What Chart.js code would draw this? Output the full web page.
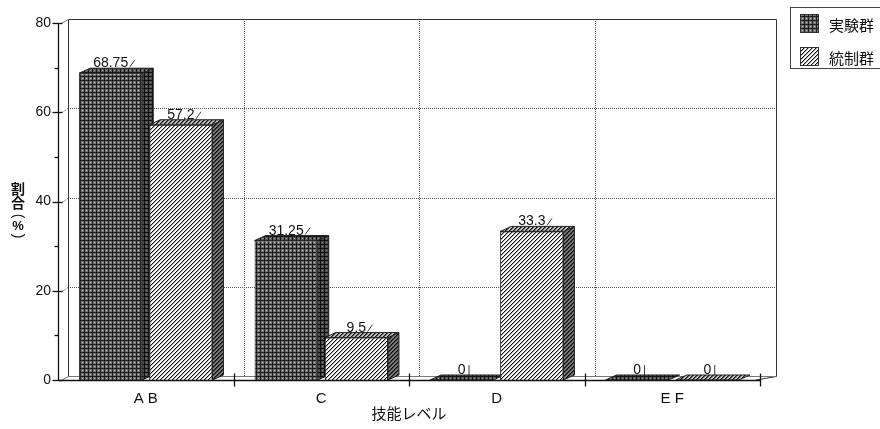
<!DOCTYPE html>
<html>
<head>
<meta charset="utf-8">
<script src="https://cdn.jsdelivr.net/npm/chart.js@4.4.1/dist/chart.umd.min.js"></script>
<style>
  html, body { margin: 0; padding: 0; background: #fff; }
  #wrap { position: relative; width: 880px; height: 429px; }
</style>
</head>
<body>
<div id="wrap"><canvas id="c" width="880" height="429"></canvas></div>
<script>
// 技能レベル別の割合（%）
const categories = ['A B', 'C', 'D', 'E F'];
const seriesNames = ['実験群', '統制群'];
const experimental = [68.75, 31.25, 0, 0];
const control = [57.2, 9.5, 33.3, 0];
const yTicks = [0, 20, 40, 60, 80];

const DX = 11, DY = 5;          // depth of the 3D bars
const WX = 10, WY = 4;          // offset of the back wall
const NUM_FONT = '"Liberation Sans", Arial, sans-serif';
const JP_FONT = '"Noto Sans CJK JP", "Noto Sans", sans-serif';

function tile(size, draw) {
  const cv = document.createElement('canvas');
  cv.width = size; cv.height = size;
  const g = cv.getContext('2d');
  draw(g);
  return document.getElementById('c').getContext('2d').createPattern(cv, 'repeat');
}
function gridTile(bg, line, dot) {
  return tile(4, g => {
    g.fillStyle = bg; g.fillRect(0, 0, 4, 4);
    g.fillStyle = line; g.fillRect(0, 0, 4, 1); g.fillRect(0, 0, 1, 4);
    g.fillStyle = dot; g.fillRect(2, 2, 1, 1);
  });
}
function hatchTile(bg, line, soft) {
  return tile(4, g => {
    g.fillStyle = bg; g.fillRect(0, 0, 4, 4);
    for (let i = 0; i < 4; i++) {
      g.fillStyle = line; g.fillRect(i, 3 - i, 1, 1);
      g.fillStyle = soft; g.fillRect(i, (4 - i) % 4, 1, 1);
    }
  });
}
const pat = {
  expFront: gridTile('#727272', '#1c1c1c', '#c4c4c4'),
  expSide: gridTile('#4a4a4a', '#101010', '#8a8a8a'),
  expTop: gridTile('#5a5a5a', '#151515', '#9a9a9a'),
  ctlFront: hatchTile('#ffffff', '#111111', '#aaaaaa'),
  ctlSide: hatchTile('#7a7a7a', '#111111', '#333333'),
  ctlTop: hatchTile('#bdbdbd', '#111111', '#555555')
};

const faces = [
  { side: pat.expSide, top: pat.expTop },
  { side: pat.ctlSide, top: pat.ctlTop }
];

function poly(ctx, pts, fill) {
  ctx.beginPath();
  ctx.moveTo(pts[0][0], pts[0][1]);
  for (let i = 1; i < pts.length; i++) ctx.lineTo(pts[i][0], pts[i][1]);
  ctx.closePath();
  ctx.fillStyle = fill; ctx.fill();
  ctx.strokeStyle = '#222'; ctx.lineWidth = 1; ctx.stroke();
}

// back wall, floor, axes with 3D ticks, bar depth faces and value labels
const framePlugin = {
  id: 'frame',
  beforeDatasetsDraw(chart) {
    const { ctx } = chart;
    const xs = chart.scales.x, ys = chart.scales.y;
    const L = xs.left, R = xs.right;
    const top = ys.getPixelForValue(80), bot = ys.getPixelForValue(0);
    ctx.save();
    ctx.strokeStyle = '#555'; ctx.lineWidth = 1; ctx.setLineDash([1, 1]);
    [20, 40, 60].forEach(v => {
      const y = Math.round(ys.getPixelForValue(v) - WY) + 0.5;
      ctx.beginPath(); ctx.moveTo(L + WX, y); ctx.lineTo(R + WX + 6, y); ctx.stroke();
      ctx.beginPath(); ctx.moveTo(L + 4, y + WY); ctx.lineTo(L + WX, y); ctx.stroke();
    });
    const n = categories.length, step = (R - L) / n;
    for (let i = 1; i < n; i++) {
      const x = Math.round(L + step * i + WX) + 0.5;
      ctx.beginPath(); ctx.moveTo(x, top - WY); ctx.lineTo(x, bot - WY); ctx.stroke();
    }
    ctx.setLineDash([]);
    ctx.strokeStyle = '#333';
    const wl = Math.round(L + WX) + 0.5, wr = Math.round(R + WX + 6) + 0.5;
    const wt = Math.round(top - WY) + 0.5, wb = Math.round(bot - WY) + 0.5;
    ctx.beginPath();
    ctx.moveTo(wl, wb); ctx.lineTo(wl, wt); ctx.lineTo(wr, wt); ctx.lineTo(wr, wb);
    ctx.lineTo(R - 4, bot); ctx.stroke();
    ctx.strokeStyle = '#777';
    ctx.beginPath(); ctx.moveTo(wl, wb); ctx.lineTo(wr, wb); ctx.stroke();
    ctx.beginPath(); ctx.moveTo(L + 4, bot); ctx.lineTo(wl, wb); ctx.stroke();
    ctx.beginPath(); ctx.moveTo(L + 4, top); ctx.lineTo(wl, wt); ctx.stroke();
    ctx.restore();
  },
  afterDatasetsDraw(chart) {
    const { ctx } = chart;
    ctx.save();
    const n = categories.length;
    for (let j = 0; j < n; j++) {
      for (let i = 0; i < 2; i++) {
        const bar = chart.getDatasetMeta(i).data[j];
        if (i === 1) bar.draw(ctx);   // keep the front of the second bar above the first bar's side
        const p = bar.getProps(['x', 'y', 'base', 'width'], true);
        const l = p.x - p.width / 2, r = p.x + p.width / 2;
        const t = p.y, b = p.base;
        if (b - t > 0.5) {
          poly(ctx, [[r, b], [r, t], [r + DX, t - DY], [r + DX, b - DY]], faces[i].side);
        }
        poly(ctx, [[l, t], [r, t], [r + DX, t - DY], [l + DX, t - DY]], faces[i].top);
      }
    }
    for (let i = 0; i < 2; i++) {
      chart.getDatasetMeta(i).data.forEach((bar, j) => {
        const p = bar.getProps(['x', 'y'], true);
        const v = chart.data.datasets[i].data[j];
        const txt = String(v);
        ctx.font = '14px ' + NUM_FONT;
        ctx.fillStyle = '#111'; ctx.textAlign = 'center'; ctx.textBaseline = 'alphabetic';
        const base = p.y - DY - 1;
        ctx.fillText(txt, p.x, base);
        const w = ctx.measureText(txt).width;
        const tx = p.x + w / 2 + 1.5;
        ctx.strokeStyle = '#222'; ctx.lineWidth = 0.9;
        ctx.beginPath();
        if (v === 0) { ctx.moveTo(tx + 2, base + 1); ctx.lineTo(tx + 2, base - 9); }
        else { ctx.moveTo(tx, base); ctx.lineTo(tx + 5, base - 7); }
        ctx.stroke();
      });
    }
    ctx.restore();
  },
  afterDraw(chart) {
    const { ctx } = chart;
    const xs = chart.scales.x, ys = chart.scales.y;
    const L = xs.left, R = xs.right;
    const top = ys.getPixelForValue(80), bot = ys.getPixelForValue(0);
    ctx.save();
    ctx.strokeStyle = '#111'; ctx.lineWidth = 1.3;
    const ax = Math.round(L) + 0.5;
    ctx.beginPath(); ctx.moveTo(ax, top); ctx.lineTo(ax, bot + 1); ctx.stroke();
    for (let v = 0; v <= 80; v += 10) {
      const y = Math.round(ys.getPixelForValue(v)) + 0.5;
      const major = v % 20 === 0;
      ctx.beginPath();
      ctx.moveTo(ax - (major ? 6 : 4), y); ctx.lineTo(ax + (major ? 4 : 0), y); ctx.stroke();
    }
    const by = Math.round(bot) + 0.5;
    ctx.beginPath(); ctx.moveTo(ax, by); ctx.lineTo(R, by); ctx.stroke();
    const n = categories.length, step = (R - L) / n;
    for (let i = 1; i <= n; i++) {
      const x = Math.round(L + step * i) + 0.5;
      ctx.beginPath(); ctx.moveTo(x, by - 7); ctx.lineTo(x, by + 6); ctx.stroke();
    }
    // axis titles
    ctx.fillStyle = '#111';
    ctx.textAlign = 'center'; ctx.textBaseline = 'middle';
    ctx.font = '15px ' + JP_FONT;
    ctx.fillText('技能レベル', (L + R) / 2, 413);
    // vertical y-axis title 割合（%）, brackets turned for vertical writing
    ctx.font = 'bold 14px ' + JP_FONT;
    ctx.fillText('割', 18, 189);
    ctx.fillText('合', 18, 203);
    ctx.font = 'bold 13px ' + NUM_FONT;
    ctx.fillText('%', 18, 226);
    ctx.font = '14px ' + NUM_FONT;
    [['(', 216], [')', 236]].forEach(([ch, y]) => {
      ctx.save(); ctx.translate(18, y); ctx.rotate(Math.PI / 2);
      ctx.fillText(ch, 0, 0); ctx.restore();
    });
    // legend
    ctx.strokeStyle = '#444'; ctx.lineWidth = 1;
    ctx.strokeRect(790.5, 7.5, 100, 61);
    const sw = [[pat.expFront, 14], [pat.ctlFront, 47]];
    sw.forEach(([p, y], i) => {
      ctx.fillStyle = p; ctx.fillRect(800, y, 19, 19);
      ctx.strokeStyle = '#333'; ctx.strokeRect(800.5, y + 0.5, 18, 18);
      ctx.fillStyle = '#111'; ctx.textAlign = 'left';
      ctx.font = '15px ' + JP_FONT;
      ctx.fillText(seriesNames[i], 829, y + 11);
    });
    ctx.restore();
  }
};

new Chart(document.getElementById('c'), {
  type: 'bar',
  data: {
    labels: categories,
    datasets: [
      { label: seriesNames[0], data: experimental, backgroundColor: pat.expFront,
        borderColor: '#222', borderWidth: 1 },
      { label: seriesNames[1], data: control, backgroundColor: pat.ctlFront,
        borderColor: '#222', borderWidth: 1 }
    ]
  },
  options: {
    responsive: false,
    animation: false,
    layout: { padding: { left: 0, top: 23, right: 120, bottom: 0 } },
    plugins: { legend: { display: false }, tooltip: { enabled: false } },
    scales: {
      x: {
        grid: { display: false, drawTicks: false }, border: { display: false },
        categoryPercentage: 1, barPercentage: 0.775,
        ticks: { padding: 10, color: '#111', font: { family: NUM_FONT, size: 15 } },
        afterFit(s) { s.height = 49; }
      },
      y: {
        min: 0, max: 80,
        afterBuildTicks(s) { s.ticks = yTicks.map(v => ({ value: v })); },
        grid: { display: false, drawTicks: false }, border: { display: false },
        ticks: { padding: 7, color: '#111', font: { family: NUM_FONT, size: 14 } },
        afterFit(s) { s.width = 58; }
      }
    }
  },
  plugins: [framePlugin]
});
</script>
</body>
</html>
